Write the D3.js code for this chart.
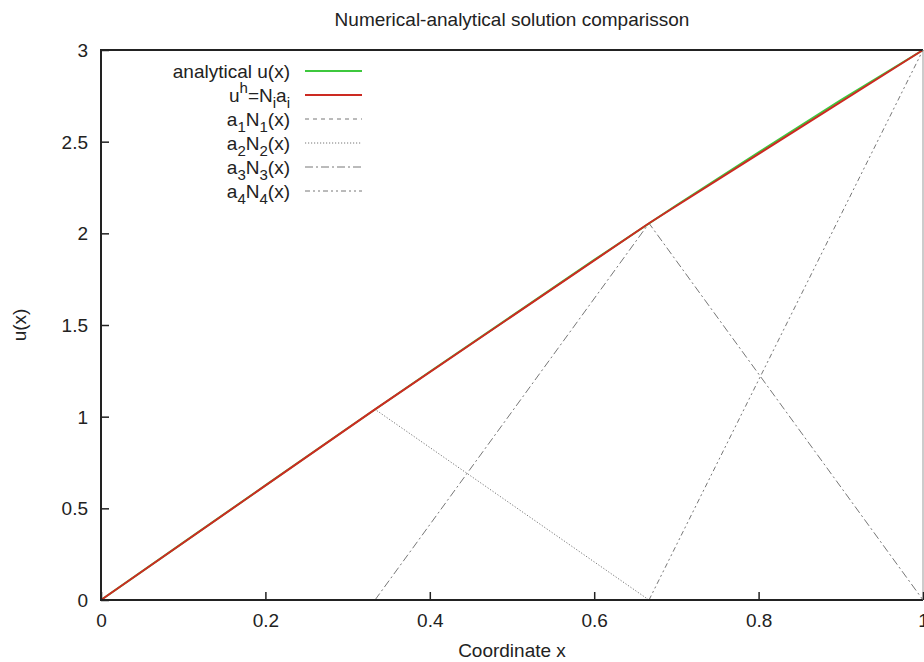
<!DOCTYPE html>
<html>
<head>
<meta charset="utf-8">
<script src="https://cdn.jsdelivr.net/npm/d3@7"></script>
<style>
body { margin: 0; background: #fff; }
text { font-family: "Liberation Sans", Arial, sans-serif; fill: #222; }
</style>
</head>
<body>
<div id="chart"></div>
<script>
// node coordinates and FE solution values
var nodeX = [0, 1 / 3, 2 / 3, 1];
var nodeA = [0, 1.04, 2.055, 3];

// analytical curve (almost hidden under u^h)
var anaX = [0, 0.1, 0.2, 0.3, 0.4, 0.5, 0.6, 0.7, 0.8, 0.9, 1.0];
var anaU = [0, 0.313, 0.625, 0.937, 1.245, 1.55, 1.855, 2.153, 2.442, 2.727, 3.0];

// basis function contributions a_i N_i(x)
var n1X = [0, 1 / 3], n1Y = [0, 0];
var n2X = [0, 1 / 3, 2 / 3], n2Y = [0, 1.04, 0];
var n3X = [1 / 3, 2 / 3, 1], n3Y = [0, 2.055, 0];
var n4X = [2 / 3, 1], n4Y = [0, 3];

var xTicks = [0, 0.2, 0.4, 0.6, 0.8, 1];
var yTicks = [0, 0.5, 1, 1.5, 2, 2.5, 3];

var width = 924, height = 662;
var mLeft = 101, mRight = 923, mTop = 50, mBottom = 600;

var svg = d3.select("#chart").append("svg")
    .attr("width", width)
    .attr("height", height);

var x = d3.scaleLinear().domain([0, 1]).range([mLeft, mRight]);
var y = d3.scaleLinear().domain([0, 3]).range([mBottom, mTop]);

function pts(xs, ys) {
    return xs.map(function(v, i) { return [v, ys[i]]; });
}
var line = d3.line()
    .x(function(d) { return x(d[0]); })
    .y(function(d) { return y(d[1]); });

var series = [
    { name: "a1", data: pts(n1X, n1Y), color: "#777", dash: "4,4", w: 1 },
    { name: "a2", data: pts(n2X, n2Y), color: "#777", dash: "1.2,1.8", w: 1 },
    { name: "a3", data: pts(n3X, n3Y), color: "#777", dash: "8,3,2,3", w: 1 },
    { name: "a4", data: pts(n4X, n4Y), color: "#777", dash: "5,3,2,3,2,3", w: 1 },
    { name: "ana", data: pts(anaX, anaU), color: "#3ec83e", dash: null, w: 2 },
    { name: "uh", data: pts(nodeX, nodeA), color: "#cc2a22", dash: null, w: 2 }
];

series.forEach(function(s) {
    svg.append("path")
        .datum(s.data)
        .attr("d", line)
        .attr("fill", "none")
        .attr("stroke", s.color)
        .attr("stroke-width", s.w)
        .attr("stroke-dasharray", s.dash);
});

// border
svg.append("path")
    .attr("d", "M" + mRight + "," + mTop + "H" + mLeft + "V" + mBottom + "H" + mRight)
    .attr("fill", "none")
    .attr("stroke", "#222")
    .attr("stroke-width", 2);
svg.append("line")
    .attr("x1", mRight).attr("x2", mRight)
    .attr("y1", mTop).attr("y2", mBottom)
    .attr("stroke", "#999")
    .attr("stroke-width", 1);

// axes with inward ticks
var xAxis = d3.axisBottom(x).tickValues(xTicks).tickSize(-8).tickPadding(14)
    .tickFormat(d3.format("~g"));
var gx = svg.append("g").attr("transform", "translate(0," + mBottom + ")").call(xAxis);
var yAxis = d3.axisLeft(y).tickValues(yTicks).tickSize(-8).tickPadding(13)
    .tickFormat(d3.format("~g"));
var gy = svg.append("g").attr("transform", "translate(" + mLeft + ",0)").call(yAxis);
[gx, gy].forEach(function(g) {
    g.select(".domain").remove();
    g.selectAll(".tick line").attr("stroke", "#222").attr("stroke-width", 1.5);
    g.selectAll(".tick text").attr("font-size", 19).attr("fill", "#222")
        .style("font-family", "Liberation Sans, Arial, sans-serif");
});
gy.selectAll(".tick text").attr("dy", "0.35em");

// titles
svg.append("text")
    .attr("x", (mLeft + mRight) / 2).attr("y", 26)
    .attr("text-anchor", "middle").attr("font-size", 19)
    .text("Numerical-analytical solution comparisson");
svg.append("text")
    .attr("x", (mLeft + mRight) / 2).attr("y", 657)
    .attr("text-anchor", "middle").attr("font-size", 19)
    .text("Coordinate x");
svg.append("text")
    .attr("transform", "translate(26," + ((mTop + mBottom) / 2) + ") rotate(-90)")
    .attr("text-anchor", "middle").attr("font-size", 19)
    .text("u(x)");

// legend
var legend = [
    { parts: [["analytical u(x)", ""]], s: series[4] },
    { parts: [["u", ""], ["h", "sup"], ["=N", ""], ["i", "sub"], ["a", ""], ["i", "sub"]], s: series[5] },
    { parts: [["a", ""], ["1", "sub"], ["N", ""], ["1", "sub"], ["(x)", ""]], s: series[0] },
    { parts: [["a", ""], ["2", "sub"], ["N", ""], ["2", "sub"], ["(x)", ""]], s: series[1] },
    { parts: [["a", ""], ["3", "sub"], ["N", ""], ["3", "sub"], ["(x)", ""]], s: series[2] },
    { parts: [["a", ""], ["4", "sub"], ["N", ""], ["4", "sub"], ["(x)", ""]], s: series[3] }
];
var ly = d3.scaleLinear().domain([0, 5]).range([71, 191]);
legend.forEach(function(item, i) {
    var t = svg.append("text")
        .attr("x", 290).attr("y", ly(i) + 7)
        .attr("text-anchor", "end").attr("font-size", 19);
    var shift = 0;
    item.parts.forEach(function(p) {
        var sp = t.append("tspan").text(p[0]);
        var want = p[1] === "sup" ? -9 : p[1] === "sub" ? 6 : 0;
        if (p[1]) sp.attr("font-size", 15);
        if (want !== shift) sp.attr("dy", want - shift);
        shift = want;
    });
    svg.append("line")
        .attr("x1", 305).attr("x2", 362)
        .attr("y1", ly(i)).attr("y2", ly(i))
        .attr("stroke", item.s.color)
        .attr("stroke-width", item.s.w)
        .attr("stroke-dasharray", item.s.dash);
});
</script>
</body>
</html>
